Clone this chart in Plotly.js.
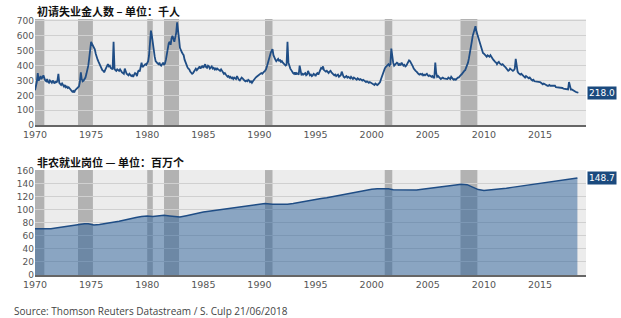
<!DOCTYPE html>
<html><head><meta charset="utf-8">
<script src="https://cdn.plot.ly/plotly-3.0.1.min.js"></script>
<style>html,body{margin:0;padding:0;background:#fff}#chart{width:621px;height:318px}</style>
</head><body><div id="chart"></div>
<script>
// Initial jobless claims (thousands), monthly from Jan 1970
var claimsStartYear = 1970;
var claimsValues = [
235,260,290,350,300,310,330,315,320,335,310,300,
295,310,290,285,300,295,285,300,290,280,295,285,
300,345,285,275,270,280,265,260,270,255,260,250,
255,245,240,235,225,230,220,235,240,245,250,260,
290,355,310,295,300,310,320,345,370,400,450,500,
560,545,535,520,510,480,455,440,425,410,395,380,
370,365,355,370,385,395,410,395,400,385,380,375,
560,380,370,365,375,370,365,375,360,355,350,345,
380,360,345,340,335,345,340,330,335,325,340,350,
345,330,355,370,360,385,420,390,395,400,410,405,
420,430,470,560,635,600,540,490,460,430,420,415,
410,420,405,400,410,420,405,415,440,480,520,550,
560,540,580,600,580,560,590,620,690,650,580,520,
500,490,480,470,440,420,400,390,380,375,360,355,
345,350,360,365,380,370,375,385,395,380,390,400,
385,395,410,390,385,400,395,380,390,395,380,385,
375,385,370,380,375,370,365,375,360,355,345,350,
340,335,325,330,320,325,315,320,310,320,315,310,
330,315,305,300,310,320,315,305,300,295,300,295,
305,300,290,295,285,295,305,310,320,325,330,335,
340,345,350,345,355,360,365,375,395,420,450,470,
485,500,510,470,450,440,430,440,445,430,440,425,
430,420,415,410,400,405,560,420,395,380,370,355,
350,345,355,340,350,345,340,400,345,335,345,340,
345,350,335,340,365,345,335,340,330,335,345,340,
330,345,350,340,360,370,385,380,395,370,365,360,
365,355,350,360,365,355,350,345,335,340,330,335,
340,325,330,335,360,330,325,320,325,330,320,325,
320,315,325,320,310,320,315,310,305,315,310,305,
310,305,300,305,300,295,290,295,290,285,290,285,
285,280,275,270,280,275,270,275,280,290,310,330,
350,370,380,390,395,400,410,400,410,515,450,420,
400,405,410,420,415,400,410,405,420,410,400,405,
395,400,410,420,435,430,420,405,395,380,370,365,
360,350,345,340,345,340,345,335,340,335,340,345,
335,330,335,330,325,330,320,320,420,350,325,330,
320,315,310,315,320,315,315,310,315,310,320,315,
310,325,315,310,305,310,305,315,320,320,330,335,
340,350,360,365,370,385,400,420,450,480,520,560,
600,630,655,665,630,610,580,560,550,530,500,485,
480,470,465,460,470,465,460,470,455,450,440,430,
425,420,410,420,425,415,410,405,410,400,395,390,
380,370,365,370,380,375,370,365,370,380,445,380,
360,350,345,340,345,340,335,325,320,330,325,320,
315,320,310,305,300,305,295,295,290,295,290,290,
290,285,280,275,280,275,270,270,265,265,270,265,
265,260,260,260,265,255,255,255,250,255,250,250,
250,245,245,240,240,245,240,290,250,240,240,235,
235,230,225,222,220,218
];
var claimsLast = "218.0";

// Nonfarm payrolls (millions)
var payrollDates = ["1970-01","1970-07","1970-11","1971-06","1972-01","1972-07","1973-01","1973-07","1973-11","1974-06","1974-10","1975-04","1975-10","1976-06","1977-01","1977-07","1978-01","1978-07","1979-01","1979-07","1980-01","1980-07","1981-01","1981-07","1982-01","1982-07","1982-12","1983-07","1984-01","1984-07","1985-01","1985-07","1986-01","1986-07","1987-01","1987-07","1988-01","1988-07","1989-01","1989-07","1990-01","1990-07","1991-03","1991-07","1992-01","1992-07","1993-01","1993-07","1994-01","1994-07","1995-01","1995-07","1996-01","1996-07","1997-01","1997-07","1998-01","1998-07","1999-01","1999-07","2000-01","2000-07","2001-03","2001-07","2001-12","2002-07","2003-07","2004-01","2004-07","2005-01","2005-07","2006-01","2006-07","2007-01","2007-07","2008-01","2008-07","2009-01","2009-07","2010-01","2010-07","2011-01","2011-07","2012-01","2012-07","2013-01","2013-07","2014-01","2014-07","2015-01","2015-07","2016-01","2016-07","2017-01","2017-07","2018-01","2018-05"];
var payrollValues = [71.0,70.9,70.4,71.0,72.4,73.6,75.2,76.6,77.8,78.5,78.5,76.6,77.6,79.3,80.6,82.5,84.5,86.7,88.2,89.6,90.5,89.8,91.0,91.6,90.5,89.5,88.8,90.8,93.0,95.0,96.5,97.8,99.0,100.0,101.2,102.8,104.3,105.8,107.0,108.0,109.3,109.8,108.5,108.3,108.3,108.7,109.8,111.3,113.0,115.0,116.8,117.5,118.6,120.2,121.9,123.7,125.5,127.0,128.5,130.0,131.5,132.3,132.7,132.2,130.9,130.5,129.9,130.3,131.5,132.6,134.0,135.3,136.3,137.3,138.0,139.2,138.6,135.0,131.0,129.7,130.3,130.9,131.9,133.2,134.4,135.6,136.8,138.1,139.6,141.1,142.5,143.8,144.9,145.9,146.9,147.8,148.7];
var payrollLast = "148.7";

// US recessions
var recessionStarts = ["1970-01-01","1973-11-01","1980-01-01","1981-07-01","1990-07-01","2001-03-01","2007-12-01"];
var recessionEnds   = ["1970-11-01","1975-03-01","1980-07-01","1982-11-01","1991-03-01","2001-11-01","2009-06-01"];

var yearTicks = ["1970","1975","1980","1985","1990","1995","2000","2005","2010","2015"];
var claimsTicks = [0,100,200,300,400,500,600,700];
var payrollTicks = [0,20,40,60,80,100,120,140,160];

var titleTop = "初请失业金人数 – 单位：千人";
var titleBottom = "非农就业岗位 — 单位：百万个";
var sourceText = "Source: Thomson Reuters Datastream / S. Culp 21/06/2018";

function pad(n){return (n<10?"0":"")+n;}
var claimsDates = claimsValues.map(function(v,i){
  return (claimsStartYear + Math.floor(i/12)) + "-" + pad(i%12+1) + "-01";
});

var lineColor = "#1f4d85";
var traces = [
  {x: claimsDates, y: claimsValues, type: "scatter", mode: "lines",
   line: {color: lineColor, width: 1.8}, xaxis: "x", yaxis: "y", hoverinfo: "skip"},
  {x: payrollDates, y: payrollValues, type: "scatter", mode: "lines", fill: "tozeroy",
   fillcolor: "rgba(40,94,152,0.5)", line: {color: lineColor, width: 1.5},
   xaxis: "x2", yaxis: "y2", hoverinfo: "skip"}
];

var shapes = [];
recessionStarts.forEach(function(s, i){
  ["", "2"].forEach(function(k){
    shapes.push({type: "rect", xref: "x"+k, yref: "paper", x0: s, x1: recessionEnds[i],
      y0: (k === "" ? 0.585 : 0), y1: (k === "" ? 1 : 0.41), fillcolor: "#b2b2b2", line: {width: 0}, layer: "below"});
  });
});

var tickFontX = {family: "DejaVu Sans", size: 9.5, color: "#555"};
var tickFontY = {family: "DejaVu Sans", size: 9, color: "#555"};
var xCommon = {type: "date", range: ["1970-01-01", "2019-02-05"], tickvals: yearTicks.map(function(y){return y+"-01-01";}),
  ticktext: yearTicks, tickfont: tickFontX, showgrid: false, showline: true, linecolor: "#666", linewidth: 1.5,
  ticks: "", zeroline: false, fixedrange: true};
function yCommon(domain, range, ticks){
  return {domain: domain, range: range, tickvals: ticks, tickfont: tickFontY, showgrid: true, gridcolor: "#d0d0d0",
    gridwidth: 1, zeroline: false, showline: false, ticks: "", fixedrange: true};
}

var layout = {
  width: 621, height: 318,
  margin: {l: 35, r: 35, t: 19, b: 43},
  paper_bgcolor: "#ffffff", plot_bgcolor: "#ececec",
  showlegend: false,
  xaxis: Object.assign({}, xCommon, {anchor: "y"}),
  xaxis2: Object.assign({}, xCommon, {anchor: "y2"}),
  yaxis: yCommon([0.585, 1], [0, 713], claimsTicks),
  yaxis2: yCommon([0, 0.41], [0, 161], payrollTicks),
  shapes: shapes,
  annotations: [
    {xref: "paper", yref: "paper", x: 0, y: 1.0, xanchor: "left", yanchor: "bottom", showarrow: false,
     text: "<b>" + titleTop + "</b>", font: {family: "Noto Sans CJK SC", size: 11, color: "#111"}, yshift: -2},
    {xref: "paper", yref: "paper", x: 0, y: 0.41, xanchor: "left", yanchor: "bottom", showarrow: false,
     text: "<b>" + titleBottom + "</b>", font: {family: "Noto Sans CJK SC", size: 11, color: "#111"}, yshift: -2},
    {xref: "paper", yref: "y", x: 1, y: 218, xanchor: "left", yanchor: "middle", showarrow: false, xshift: 1,
     text: claimsLast, bgcolor: "#1b4a7e", borderpad: 1, font: {family: "DejaVu Sans", size: 9, color: "#fff"}},
    {xref: "paper", yref: "y2", x: 1, y: 148.7, xanchor: "left", yanchor: "middle", showarrow: false, xshift: 1,
     text: payrollLast, bgcolor: "#1b4a7e", borderpad: 1, font: {family: "DejaVu Sans", size: 9, color: "#fff"}},
    {xref: "paper", yref: "paper", x: -0.042, y: -0.14, xanchor: "left", yanchor: "middle", showarrow: false,
     text: sourceText, font: {family: "Open Sans", size: 10, color: "#444"}}
  ]
};

Plotly.newPlot("chart", traces, layout, {displayModeBar: false, staticPlot: true});
</script>
</body></html>
